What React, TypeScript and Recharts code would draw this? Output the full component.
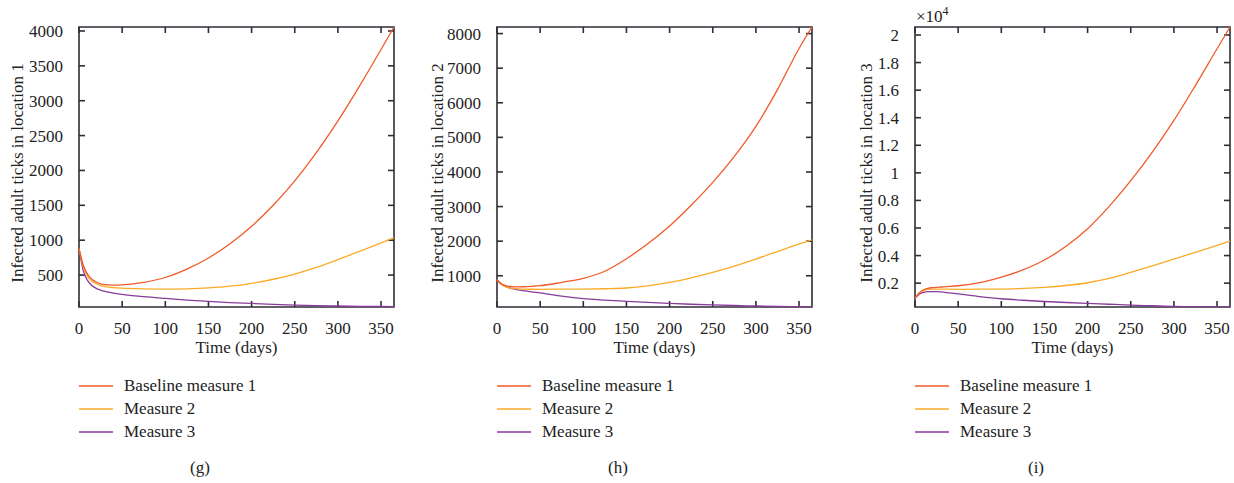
import React from "react";
import { LineChart, Line, XAxis, YAxis, Label, usePlotArea, useXAxisScale, useYAxisScale } from "recharts";

// sample days (x axis)
const days = [0, 5, 10, 15, 20, 25, 30, 40, 50, 75, 100, 125, 150, 175, 200, 225, 250, 275, 300, 325, 350, 365];
const xTicks = [0, 50, 100, 150, 200, 250, 300, 350];

// (g) location 1
const baseG = [880, 640, 510, 440, 400, 375, 362, 355, 360, 395, 465, 585, 745, 950, 1200, 1500, 1850, 2255, 2710, 3210, 3735, 4057];
const m2G = [880, 620, 480, 410, 375, 350, 335, 320, 312, 302, 298, 302, 315, 340, 382, 440, 515, 610, 722, 840, 960, 1035];
const m3G = [880, 560, 420, 350, 310, 285, 265, 240, 222, 190, 165, 142, 122, 106, 93, 80, 70, 62, 56, 52, 49, 48];
const ticksG = [500, 1000, 1500, 2000, 2500, 3000, 3500, 4000];

// (h) location 2
const baseH = [885, 770, 715, 690, 680, 680, 683, 695, 712, 810, 925, 1130, 1490, 1930, 2440, 3040, 3700, 4450, 5320, 6380, 7570, 8190];
const m2H = [885, 750, 680, 645, 628, 620, 614, 610, 608, 612, 615, 625, 646, 710, 807, 940, 1096, 1280, 1482, 1700, 1920, 2040];
const m3H = [885, 760, 690, 645, 615, 590, 570, 535, 505, 410, 337, 295, 260, 228, 202, 177, 156, 140, 127, 115, 106, 100];
const ticksH = [1000, 2000, 3000, 4000, 5000, 6000, 7000, 8000];

// (i) location 3
const baseI = [900, 1300, 1520, 1620, 1670, 1700, 1720, 1760, 1810, 2030, 2430, 2960, 3680, 4680, 5950, 7570, 9430, 11500, 13800, 16350, 19000, 20580];
const m2I = [900, 1280, 1480, 1550, 1570, 1570, 1565, 1560, 1555, 1560, 1570, 1620, 1700, 1830, 2030, 2340, 2780, 3250, 3740, 4240, 4740, 5040];
const m3I = [900, 1200, 1330, 1380, 1390, 1380, 1360, 1290, 1220, 1030, 870, 760, 670, 595, 530, 470, 410, 360, 310, 295, 285, 280];
const ticksI = [2000, 4000, 6000, 8000, 10000, 12000, 14000, 16000, 18000, 20000];

const seriesNames = ["Baseline measure 1", "Measure 2", "Measure 3"];
const colors = ["#f15a29", "#fbaa26", "#8a3a9c"];

const FONT = '"Liberation Serif", "Times New Roman", serif';
const AXIS = "#2e2e36";
const PLOT_W = 315;

// box frame + inward ticks on all four sides, placed through the chart's scales
function Frame({ yTicks, exponent }: { yTicks: number[]; exponent?: boolean }) {
  const area = usePlotArea();
  const xs: any = useXAxisScale(0);
  const ys: any = useYAxisScale(0);
  if (!area || !xs || !ys) return null;
  const { x, y, width, height } = area;
  const right = x + width;
  const bottom = y + height;
  const seg = (x1: number, y1: number, x2: number, y2: number, key: string) => (
    <path key={key} d={`M${x1},${y1}L${x2},${y2}`} fill="none" stroke={AXIS} strokeWidth={1.6} />
  );
  return (
    <g>
      <path
        d={`M${x},${y}H${right}V${bottom}H${x}Z`}
        fill="none"
        stroke={AXIS}
        strokeWidth={1.6}
      />
      {xTicks.map((t) => {
        const px = xs(t);
        return (
          <g key={"x" + t}>
            {seg(px, bottom, px, bottom - 6, "b")}
            {seg(px, y, px, y + 6, "t")}
          </g>
        );
      })}
      {yTicks.map((t) => {
        const py = ys(t);
        return (
          <g key={"y" + t}>
            {seg(x, py, x + 6, py, "l")}
            {seg(right, py, right - 6, py, "r")}
          </g>
        );
      })}
      {exponent && (
        <text x={x + 1} y={y - 5} fill="#222" fontSize={17} fontFamily={FONT}>
          ×10
          <tspan dy={-7} fontSize={12}>4</tspan>
        </text>
      )}
    </g>
  );
}

type PanelProps = {
  left: number;
  chartWidth: number;
  caption: string;
  yLabel: string;
  labelX: number;
  domain: [number, number];
  yTicks: number[];
  fmt?: (v: number) => string;
  base: number[];
  m2: number[];
  m3: number[];
  exponent?: boolean;
};

function Panel({ left, chartWidth, caption, yLabel, labelX, domain, yTicks, fmt, base, m2, m3, exponent }: PanelProps) {
  const data = days.map((t, i) => ({ t, base: base[i], m2: m2[i], m3: m3[i] }));
  const tickStyle = { fill: "#222", fontSize: 17, fontFamily: FONT };
  return (
    <div style={{ position: "absolute", left, top: 0, width: chartWidth, height: 483 }}>
      <LineChart
        width={chartWidth}
        height={370}
        data={data}
        margin={{ top: 27, right: chartWidth - 79 - PLOT_W, bottom: 13, left: 0 }}
      >
        <XAxis
          dataKey="t"
          type="number"
          domain={[0, 365]}
          ticks={xTicks}
          height={50}
          axisLine={false}
          tickLine={false}
          tickMargin={9}
          tick={tickStyle}
        >
          <Label
            content={(p: any) => {
              const vb = p.viewBox;
              return (
                <text x={vb.x + vb.width / 2} y={vb.y + 46} textAnchor="middle" fill="#222" fontSize={17} fontFamily={FONT}>
                  Time (days)
                </text>
              );
            }}
          />
        </XAxis>
        <YAxis
          type="number"
          domain={domain}
          ticks={yTicks}
          allowDataOverflow
          width={79}
          axisLine={false}
          tickLine={false}
          tickMargin={10}
          tick={tickStyle}
          tickFormatter={fmt}
        >
          <Label
            content={(p: any) => {
              const vb = p.viewBox;
              const cy = vb.y + vb.height / 2 + 6;
              return (
                <text
                  x={labelX}
                  y={cy}
                  transform={`rotate(-90 ${labelX} ${cy})`}
                  textAnchor="middle"
                  fill="#222"
                  fontSize={17}
                  fontFamily={FONT}
                >
                  {yLabel}
                </text>
              );
            }}
          />
        </YAxis>
        <Line type="monotone" dataKey="m3" stroke={colors[2]} strokeWidth={1.3} dot={false} isAnimationActive={false} />
        <Line type="monotone" dataKey="m2" stroke={colors[1]} strokeWidth={1.3} dot={false} isAnimationActive={false} />
        <Line type="monotone" dataKey="base" stroke={colors[0]} strokeWidth={1.3} dot={false} isAnimationActive={false} />
        <Frame yTicks={yTicks} exponent={exponent} />
      </LineChart>

      {/* legend */}
      <div style={{ position: "absolute", left: 79, top: 374, fontFamily: FONT, fontSize: 17, lineHeight: "23px", color: "#222" }}>
        {seriesNames.map((name, i) => (
          <div key={name} style={{ display: "flex", alignItems: "center", whiteSpace: "nowrap" }}>
            <svg width={34} height={4} style={{ marginRight: 11 }}>
              <line x1={0} x2={34} y1={2} y2={2} stroke={colors[i]} strokeWidth={1.6} />
            </svg>
            {name}
          </div>
        ))}
      </div>
      <div style={{ position: "absolute", left: 0, top: 456, width: 400, textAlign: "center", fontFamily: FONT, fontSize: 17, lineHeight: "23px", color: "#222" }}>
        {caption}
      </div>
    </div>
  );
}

export default function App() {
  return (
    <div style={{ position: "absolute", left: 0, top: 0, width: 1234, height: 483, background: "#fff", overflow: "hidden" }}>
      <Panel
        left={0}
        chartWidth={410}
        caption="(g)"
        yLabel="Infected adult ticks in location 1"
        labelX={23}
        domain={[42, 4057]}
        yTicks={ticksG}
        base={baseG}
        m2={m2G}
        m3={m3G}
      />
      <Panel
        left={418}
        chartWidth={410}
        caption="(h)"
        yLabel="Infected adult ticks in location 2"
        labelX={25}
        domain={[97, 8190]}
        yTicks={ticksH}
        base={baseH}
        m2={m2H}
        m3={m3H}
      />
      <Panel
        left={836}
        chartWidth={398}
        caption="(i)"
        yLabel="Infected adult ticks in location 3"
        labelX={36}
        domain={[270, 20580]}
        yTicks={ticksI}
        fmt={(v: number) => String(Math.round(v / 1000) / 10)}
        base={baseI}
        m2={m2I}
        m3={m3I}
        exponent
      />
    </div>
  );
}
